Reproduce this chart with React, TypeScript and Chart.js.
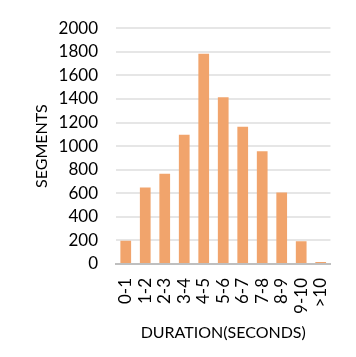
import React, { useEffect, useRef } from "react";
import { Chart, registerables } from "chart.js";

Chart.register(...registerables);

const categories = ["0-1", "1-2", "2-3", "3-4", "4-5", "5-6", "6-7", "7-8", "8-9", "9-10", ">10"];
const segments = [197, 648, 765, 1097, 1783, 1414, 1164, 956, 607, 192, 18];
const yMax = 2000;
const yStep = 200;
const xTitle = "DURATION(SECONDS)";
const yTitle = "SEGMENTS";

const FONT = "Lato, 'Open Sans', sans-serif";

export default function App() {
  const ref = useRef<HTMLCanvasElement | null>(null);
  useEffect(() => {
    if (!ref.current) return;
    const chart = new Chart(ref.current, {
      type: "bar",
      data: {
        labels: categories,
        datasets: [
          {
            data: segments,
            backgroundColor: "#F1A46C",
            borderWidth: 0,
            categoryPercentage: 1,
            barPercentage: 0.55,
          },
        ],
      },
      options: {
        animation: false,
        responsive: false,
        maintainAspectRatio: false,
        layout: { padding: { top: 24, right: 20, left: 0, bottom: 0 } },
        plugins: { legend: { display: false }, tooltip: { enabled: false } },
        scales: {
          x: {
            grid: { display: false, drawTicks: false },
            border: { display: true, color: "#bfbfbf", width: 2 },
            ticks: {
              color: "#000",
              font: { family: FONT, size: 17 },
              maxRotation: 90,
              minRotation: 90,
              padding: 14,
              autoSkip: false,
            },
            title: {
              display: true,
              text: xTitle,
              color: "#000",
              font: { family: FONT, size: 16 },
              padding: { top: 0, bottom: 15 },
            },
            afterFit: (s: any) => {
              s.height = 93;
            },
          },
          y: {
            min: 0,
            max: yMax,
            grid: { color: "#e6e6e6", lineWidth: 2, drawTicks: false },
            border: { display: false },
            ticks: {
              stepSize: yStep,
              color: "#000",
              font: { family: FONT, size: 17 },
              padding: 18,
              callback: (v: any) => String(v),
            },
            title: {
              display: true,
              text: yTitle,
              color: "#000",
              font: { family: FONT, size: 16 },
              padding: { top: 32, bottom: 0 },
            },
            afterFit: (s: any) => {
              s.width = 116;
            },
          },
        },
      },
    });
    return () => chart.destroy();
  }, []);
  return (
    <div style={{ position: "fixed", left: 0, top: 0, width: 356, height: 357, background: "#fff" }}>
      <canvas ref={ref} width={356} height={357} style={{ width: 356, height: 357 }} />
    </div>
  );
}
